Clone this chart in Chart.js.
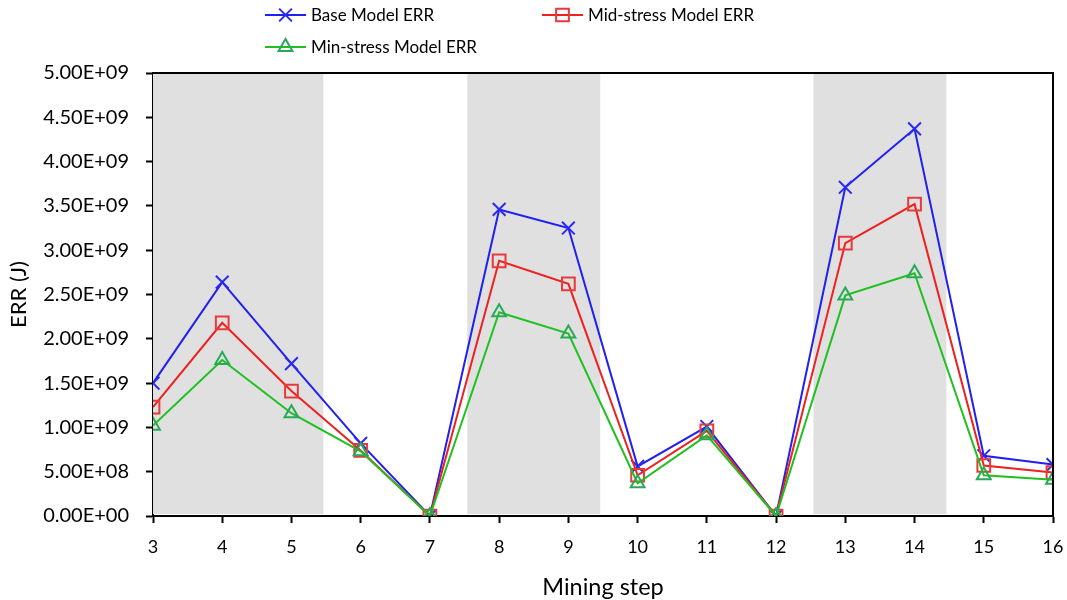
<!DOCTYPE html>
<html>
<head>
<meta charset="utf-8">
<script src="https://cdn.jsdelivr.net/npm/chart.js@4.4.1/dist/chart.umd.min.js"></script>
<style>
  html, body { margin: 0; padding: 0; background: #fff; }
  #wrap { width: 1067px; height: 600px; position: relative; }
</style>
</head>
<body>
<div id="wrap"><canvas id="errChart" width="1067" height="600"></canvas></div>
<script>
// mining steps on the x axis
const steps = [3, 4, 5, 6, 7, 8, 9, 10, 11, 12, 13, 14, 15, 16];

// ERR values (J)
const baseErr = [1.50e9, 2.64e9, 1.72e9, 0.82e9, 0, 3.46e9, 3.25e9, 0.56e9, 1.01e9, 0, 3.71e9, 4.37e9, 0.68e9, 0.58e9];
const midErr  = [1.23e9, 2.18e9, 1.41e9, 0.74e9, 0, 2.88e9, 2.62e9, 0.46e9, 0.96e9, 0, 3.08e9, 3.52e9, 0.57e9, 0.49e9];
const minErr  = [1.02e9, 1.76e9, 1.16e9, 0.73e9, 0, 2.30e9, 2.06e9, 0.37e9, 0.91e9, 0, 2.49e9, 2.74e9, 0.46e9, 0.41e9];

const seriesNames = ["Base Model ERR", "Mid-stress Model ERR", "Min-stress Model ERR"];

// grey bands behind the lines, in step units
const bandStart = [3, 7.54, 12.54];
const bandEnd   = [5.46, 9.46, 14.46];

const yTickLabels = ["0.00E+00", "5.00E+08", "1.00E+09", "1.50E+09", "2.00E+09", "2.50E+09",
                     "3.00E+09", "3.50E+09", "4.00E+09", "4.50E+09", "5.00E+09"];

const FONT = "Lato";

function pts(vals) {
  return steps.map((s, i) => ({ x: s, y: vals[i] }));
}

const bandsPlugin = {
  id: "bands",
  beforeDatasetsDraw(chart) {
    const { ctx, chartArea } = chart;
    const xs = chart.scales.x;
    ctx.save();
    ctx.fillStyle = "#e0e0e0";
    for (let i = 0; i < bandStart.length; i++) {
      const x1 = xs.getPixelForValue(bandStart[i]);
      const x2 = xs.getPixelForValue(bandEnd[i]);
      ctx.fillRect(x1, chartArea.top, x2 - x1, chartArea.bottom - chartArea.top - 2);
    }
    ctx.restore();
  }
};

const framePlugin = {
  id: "frame",
  afterDraw(chart) {
    const { ctx, chartArea } = chart;
    ctx.save();
    ctx.strokeStyle = "#000";
    ctx.lineWidth = 2;
    ctx.beginPath();
    ctx.moveTo(chartArea.left, chartArea.top);
    ctx.lineTo(chartArea.right, chartArea.top);
    ctx.lineTo(chartArea.right, chartArea.bottom);
    ctx.stroke();
    ctx.restore();
  }
};

// legend laid out like the original: two on the first row, one below
const legendPlugin = {
  id: "customLegend",
  afterDraw(chart) {
    const ctx = chart.ctx;
    const spots = [[265, 15], [542, 15], [265, 47]];
    ctx.save();
    ctx.font = "17px " + FONT;
    ctx.textBaseline = "middle";
    ctx.fillStyle = "#000";
    chart.data.datasets.forEach((ds, i) => {
      const [x, y] = spots[i];
      ctx.strokeStyle = ds.borderColor;
      ctx.lineWidth = 2;
      ctx.beginPath();
      ctx.moveTo(x, y);
      ctx.lineTo(x + 41, y);
      ctx.stroke();
      ctx.strokeStyle = ds.pointBorderColor;
      ctx.fillStyle = "rgba(0,0,0,0)";
      Chart.helpers.drawPoint(ctx, {
        pointStyle: ds.pointStyle, radius: ds.pointRadius,
        borderWidth: ds.pointBorderWidth, rotation: 0
      }, x + 20.5, y);
      ctx.fillStyle = "#000";
      ctx.fillText(ds.label, x + 46, y + 1);
    });
    ctx.restore();
  }
};

new Chart(document.getElementById("errChart"), {
  type: "line",
  data: {
    datasets: [
      { label: seriesNames[0], data: pts(baseErr), borderColor: "#2020f0", borderWidth: 2,
        pointStyle: "crossRot", pointRadius: 9, pointBorderWidth: 2,
        pointBorderColor: "#2a2af0", pointBackgroundColor: "rgba(0,0,0,0)", order: 2 },
      { label: seriesNames[1], data: pts(midErr), borderColor: "#ee2020", borderWidth: 2,
        pointStyle: "rect", pointRadius: 9, pointBorderWidth: 2,
        pointBorderColor: "#e83a3a", pointBackgroundColor: "rgba(0,0,0,0)", order: 1 },
      { label: seriesNames[2], data: pts(minErr), borderColor: "#20c020", borderWidth: 2,
        pointStyle: "triangle", pointRadius: 8, pointBorderWidth: 2,
        pointBorderColor: "#2aa85a", pointBackgroundColor: "rgba(0,0,0,0)", order: 0 }
    ]
  },
  options: {
    responsive: false,
    animation: false,
    devicePixelRatio: 1,
    layout: { padding: { top: 73, right: 14, left: 0, bottom: 0 } },
    plugins: { legend: { display: false }, tooltip: { enabled: false } },
    elements: { line: { tension: 0 } },
    scales: {
      x: {
        type: "linear",
        min: steps[0],
        max: steps[steps.length - 1],
        afterFit(scale) { scale.height = 84; scale.paddingRight = 0; scale.paddingLeft = 0; },
        ticks: { stepSize: 1, color: "#000", padding: 13, font: { family: FONT, size: 18 } },
        grid: { display: true, drawOnChartArea: false, drawTicks: true, tickLength: 7,
                tickColor: "#000", tickWidth: 2 },
        border: { display: true, color: "#000", width: 2 },
        title: { display: true, text: "Mining step", color: "#000",
                 font: { family: FONT, size: 23.5 }, padding: { top: 0, bottom: -2 } }
      },
      y: {
        min: 0,
        max: 5e9,
        afterFit(scale) { scale.width = 153; },
        ticks: { stepSize: 5e8, color: "#000", padding: 17, font: { family: FONT, size: 20 },
                 callback: (v, i) => yTickLabels[i] },
        grid: { display: true, drawOnChartArea: false, drawTicks: true, tickLength: 7,
                tickColor: "#000", tickWidth: 2 },
        border: { display: true, color: "#000", width: 2 },
        title: { display: true, text: "ERR (J)", color: "#000",
                 font: { family: FONT, size: 22 }, padding: { top: 6, bottom: 0 } }
      }
    }
  },
  plugins: [bandsPlugin, framePlugin, legendPlugin]
});
</script>
</body>
</html>
